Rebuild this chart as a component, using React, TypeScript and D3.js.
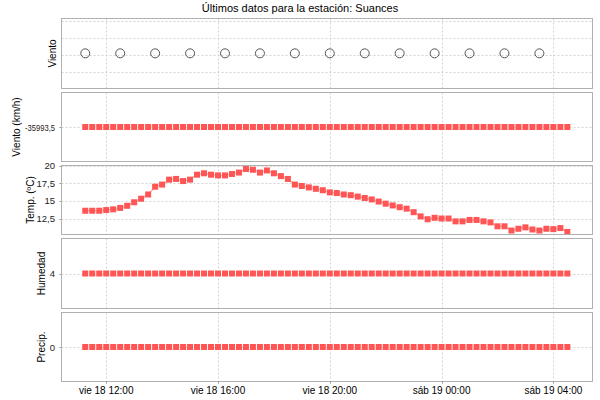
import * as d3 from "d3";

const title = "Últimos datos para la estación: Suances";

// lecturas cada 15 min, "día hh:mm" (noviembre 2011)
const times = [
  "18 11:15", "18 11:30", "18 11:45", "18 12:00", "18 12:15", "18 12:30", "18 12:45",
  "18 13:00", "18 13:15", "18 13:30", "18 13:45", "18 14:00", "18 14:15", "18 14:30",
  "18 14:45", "18 15:00", "18 15:15", "18 15:30", "18 15:45", "18 16:00", "18 16:15",
  "18 16:30", "18 16:45", "18 17:00", "18 17:15", "18 17:30", "18 17:45", "18 18:00",
  "18 18:15", "18 18:30", "18 18:45", "18 19:00", "18 19:15", "18 19:30", "18 19:45",
  "18 20:00", "18 20:15", "18 20:30", "18 20:45", "18 21:00", "18 21:15", "18 21:30",
  "18 21:45", "18 22:00", "18 22:15", "18 22:30", "18 22:45", "18 23:00", "18 23:15",
  "18 23:30", "18 23:45", "19 00:00", "19 00:15", "19 00:30", "19 00:45", "19 01:00",
  "19 01:15", "19 01:30", "19 01:45", "19 02:00", "19 02:15", "19 02:30", "19 02:45",
  "19 03:00", "19 03:15", "19 03:30", "19 03:45", "19 04:00", "19 04:15", "19 04:30",
];

const temp = [
  13.6, 13.6, 13.6, 13.7, 13.8, 14.0, 14.3, 14.8, 15.3, 15.9,
  17.0, 17.3, 18.0, 18.1, 17.8, 18.0, 18.7, 18.9, 18.7, 18.6,
  18.6, 18.8, 19.0, 19.5, 19.4, 19.0, 19.3, 18.9, 18.5, 18.1,
  17.3, 17.1, 16.9, 16.7, 16.5, 16.2, 16.1, 15.9, 15.8, 15.6,
  15.4, 15.2, 14.9, 14.6, 14.35, 14.1, 13.9, 13.4, 12.8, 12.4,
  12.6, 12.5, 12.5, 12.1, 12.1, 12.3, 12.3, 12.1, 11.95, 11.4,
  11.4, 10.8, 11.05, 11.25, 10.95, 10.8, 11.05, 11.0, 11.15, 10.6,
];

const windSpeed = [
  -35993.5, -35993.5, -35993.5, -35993.5, -35993.5, -35993.5, -35993.5, -35993.5, -35993.5, -35993.5,
  -35993.5, -35993.5, -35993.5, -35993.5, -35993.5, -35993.5, -35993.5, -35993.5, -35993.5, -35993.5,
  -35993.5, -35993.5, -35993.5, -35993.5, -35993.5, -35993.5, -35993.5, -35993.5, -35993.5, -35993.5,
  -35993.5, -35993.5, -35993.5, -35993.5, -35993.5, -35993.5, -35993.5, -35993.5, -35993.5, -35993.5,
  -35993.5, -35993.5, -35993.5, -35993.5, -35993.5, -35993.5, -35993.5, -35993.5, -35993.5, -35993.5,
  -35993.5, -35993.5, -35993.5, -35993.5, -35993.5, -35993.5, -35993.5, -35993.5, -35993.5, -35993.5,
  -35993.5, -35993.5, -35993.5, -35993.5, -35993.5, -35993.5, -35993.5, -35993.5, -35993.5, -35993.5,
];

const humidity = [
  4, 4, 4, 4, 4, 4, 4, 4, 4, 4, 4, 4, 4, 4, 4, 4, 4, 4, 4, 4, 4, 4, 4, 4, 4, 4, 4, 4, 4, 4, 4, 4, 4, 4, 4,
  4, 4, 4, 4, 4, 4, 4, 4, 4, 4, 4, 4, 4, 4, 4, 4, 4, 4, 4, 4, 4, 4, 4, 4, 4, 4, 4, 4, 4, 4, 4, 4, 4, 4, 4,
];

const precip = [
  0, 0, 0, 0, 0, 0, 0, 0, 0, 0, 0, 0, 0, 0, 0, 0, 0, 0, 0, 0, 0, 0, 0, 0, 0, 0, 0, 0, 0, 0, 0, 0, 0, 0, 0,
  0, 0, 0, 0, 0, 0, 0, 0, 0, 0, 0, 0, 0, 0, 0, 0, 0, 0, 0, 0, 0, 0, 0, 0, 0, 0, 0, 0, 0, 0, 0, 0, 0, 0, 0,
];

// dirección del viento (símbolos)
const windDirTimes = [
  "18 11:15", "18 12:30", "18 13:45", "18 15:00", "18 16:15", "18 17:30", "18 18:45",
  "18 20:00", "18 21:15", "18 22:30", "18 23:45", "19 01:00", "19 02:15", "19 03:30",
];
const windDir = [1.1, 1.1, 1.1, 1.1, 1.1, 1.1, 1.1, 1.1, 1.1, 1.1, 1.1, 1.1, 1.1, 1.1];

const xTicks = ["18 12:00", "18 16:00", "18 20:00", "19 00:00", "19 04:00"];
const xTickLabels = ["vie 18 12:00", "vie 18 16:00", "vie 18 20:00", "sáb 19 00:00", "sáb 19 04:00"];

const tempTicks = [12.5, 15, 17.5, 20];

const parse = (s: string) => {
  const [d, hm] = s.split(" ");
  const [h, m] = hm.split(":").map(Number);
  return new Date(Date.UTC(2011, 10, +d, h, m));
};

const es = d3.formatLocale({ decimal: ",", thousands: ".", grouping: [3], currency: ["", " €"], minus: "-" });
const fmt = (v: number) => es.format("~f")(v).replace("\u2212", "-");

const RED = "#ff5555";
const GRID = "#d4d4d4";
const OUTLINE = "#b0b0b0";
const FONT = "'Liberation Sans', Arial, sans-serif";

const left = 61.5;
const right = 592.5;

type Panel = {
  label: string;
  labelX: number;
  top: number;
  bottom: number;
  domain: [number, number];
  ticks: number[];
  showTickLabels: boolean;
  values?: number[];
  line?: boolean;
};

const panels: Panel[] = [
  { label: "Viento", labelX: 56, top: 18.5, bottom: 88.5, domain: [-0.98, 3.16], ticks: [0, 1, 2, 3], showTickLabels: false },
  { label: "Viento (km/h)", labelX: 20, top: 92.5, bottom: 161.5, domain: [windSpeed[0] - 1, windSpeed[0] + 1], ticks: [windSpeed[0]], showTickLabels: true, values: windSpeed },
  { label: "Temp. (ºC)", labelX: 33.5, top: 165.5, bottom: 234.5, domain: [10.24, 20], ticks: tempTicks, showTickLabels: true, values: temp, line: true },
  { label: "Humedad", labelX: 45, top: 238.5, bottom: 308.5, domain: [3, 5], ticks: [humidity[0]], showTickLabels: true, values: humidity },
  { label: "Precip.", labelX: 45, top: 312.5, bottom: 381.5, domain: [-1, 1], ticks: [precip[0]], showTickLabels: true, values: precip },
];

export default function App() {
  const x = d3.scaleUtc().domain([parse("18 10:24"), parse("19 05:24")]).range([left, right]);
  const dates = times.map(parse);
  const tickDates = xTicks.map(parse);
  const last = panels[panels.length - 1];

  return (
    <svg width={600} height={400} style={{ position: "absolute", left: 0, top: 0, background: "#fff" }} fontFamily={FONT}>
      <text x={300} y={12} textAnchor="middle" fontSize={11} fill="#000">{title}</text>

      {panels.map((p, i) => {
        const y = d3.scaleLinear().domain(p.domain).range([p.bottom, p.top]);
        const cy = (p.top + p.bottom) / 2;
        const line = d3.line<number>().x((_, j) => x(dates[j])).y(v => y(v));
        return (
          <g key={i}>
            {tickDates.map((d, j) => (
              <line key={"v" + j} x1={Math.round(x(d)) + 0.5} x2={Math.round(x(d)) + 0.5} y1={p.top} y2={p.bottom}
                stroke={GRID} strokeDasharray="2,2" />
            ))}
            {p.ticks.map((t, j) => (
              <line key={"h" + j} x1={left} x2={right} y1={Math.round(y(t)) + 0.5} y2={Math.round(y(t)) + 0.5}
                stroke={GRID} strokeDasharray="2,2" />
            ))}
            {p.showTickLabels && p.ticks.map((t, j) => {
              const s = fmt(t);
              const long = s.length > 4;
              // the long wind label is drawn condensed, as in the original
              const squeeze = long ? { textLength: 30, lengthAdjust: "spacingAndGlyphs" } : {};
              return (
                <g key={"t" + j}>
                  <line x1={left - 2} x2={left} y1={Math.round(y(t)) + 0.5} y2={Math.round(y(t)) + 0.5} stroke="#999" />
                  <text x={long ? 25 : 55} y={y(t) + 3.5} textAnchor={long ? "start" : "end"}
                    fontSize={9.5} fill="#222" {...squeeze}>{s}</text>
                </g>
              );
            })}
            <text transform={`translate(${p.labelX},${cy}) rotate(-90)`} textAnchor="middle" fontSize={10} fill="#000">
              {p.label}
            </text>

            {i === 0 && windDirTimes.map((s, j) => (
              <circle key={j} cx={x(parse(s))} cy={y(windDir[j])} r={4.5} fill="none" stroke="#555" />
            ))}

            {p.values && p.line && (
              <path d={line(p.values) ?? ""} fill="none" stroke={RED} strokeOpacity={0.45} strokeWidth={1.5} />
            )}
            {p.values && p.values.map((v, j) => (
              <rect key={j} x={x(dates[j]) - 3} y={y(v) - 3} width={6} height={6} fill={RED} />
            ))}

            <rect x={left} y={p.top} width={right - left} height={p.bottom - p.top} fill="none" stroke={OUTLINE} />
          </g>
        );
      })}

      {tickDates.map((d, j) => (
        <g key={j}>
          <line x1={Math.round(x(d)) + 0.5} x2={Math.round(x(d)) + 0.5} y1={last.bottom} y2={last.bottom + 2} stroke="#999" />
          <text x={x(d)} y={394} textAnchor="middle" fontSize={10} fill="#000">{xTickLabels[j]}</text>
        </g>
      ))}
    </svg>
  );
}
